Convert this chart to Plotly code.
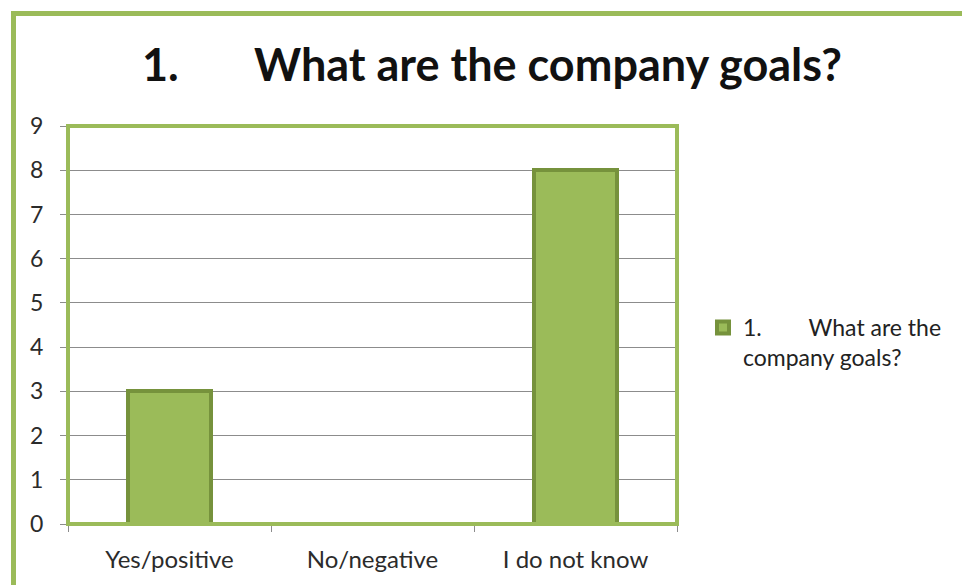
import plotly.graph_objects as go

categories = ["Yes/positive", "No/negative", "I do not know"]
counts = [3, 0, 8]
y_ticks = list(range(0, 10))
series_name = "1." + "&nbsp;" * 8 + "What are the<br>company goals?"

GREEN = "#9BBB59"
DARK_GREEN = "#76923C"
GRID = "#8C8C8C"
TEXT = "#2b2b2b"
FONT = "Lato"

W, H = 962, 585
L, R, T, B = 68, 285, 126, 61
pw = W - L - R
ph = H - T - B

def px_x(x):
    return (x - L) / pw

def px_y(y):
    return (H - B - y) / ph

fig = go.Figure()
fig.add_trace(go.Bar(
    x=categories, y=counts, name=series_name,
    marker=dict(color=GREEN, line=dict(color=DARK_GREEN, width=4)),
    width=0.41, showlegend=True,
))

fig.update_layout(
    width=W, height=H,
    margin=dict(l=L, r=R, t=T, b=B),
    paper_bgcolor="white", plot_bgcolor="white",
    font=dict(family=FONT, color=TEXT, size=23),
    showlegend=True,
    legend=dict(x=px_x(703), y=px_y(306), xanchor="left", yanchor="top",
                valign="top",
                font=dict(size=23, color="#222222"), bgcolor="rgba(0,0,0,0)",
                itemwidth=30),
    xaxis=dict(range=[-0.5, 2.5], showgrid=False, ticks="outside", tickson="boundaries",
               ticklen=7, tickcolor=GRID, showline=True, linecolor=GRID, linewidth=1,
               ticklabelstandoff=14, tickfont=dict(size=24, color=TEXT)),
    yaxis=dict(range=[0, 9], tickvals=y_ticks, showgrid=True, gridcolor=GRID, gridwidth=1,
               ticks="outside", ticklen=7, tickcolor=GRID, showline=True, linecolor=GRID,
               linewidth=1, zeroline=False, ticklabelstandoff=12,
               tickfont=dict(size=23, color=TEXT)),
    bargap=0,
)

# Plot-area frame
fig.add_shape(type="rect", xref="paper", yref="paper", x0=0, x1=1, y0=0, y1=1,
              line=dict(color=GREEN, width=4), layer="above")
# Outer chart border (top and left edges visible)
fig.add_shape(type="rect", xref="paper", yref="paper",
              x0=px_x(13.5), x1=px_x(1100), y0=px_y(700), y1=px_y(13.5),
              line=dict(color=GREEN, width=5), layer="above")

# Title
fig.add_annotation(text="<b>1.</b>", xref="paper", yref="paper", x=px_x(140), y=px_y(64),
                   xanchor="left", yanchor="middle", showarrow=False,
                   font=dict(size=45, color="#111111", family=FONT))
fig.add_annotation(text="<b>What are the company goals?</b>", xref="paper", yref="paper",
                   x=px_x(252), y=px_y(64), xanchor="left", yanchor="middle", showarrow=False,
                   font=dict(size=45, color="#111111", family=FONT))

fig.write_html("out.html")
